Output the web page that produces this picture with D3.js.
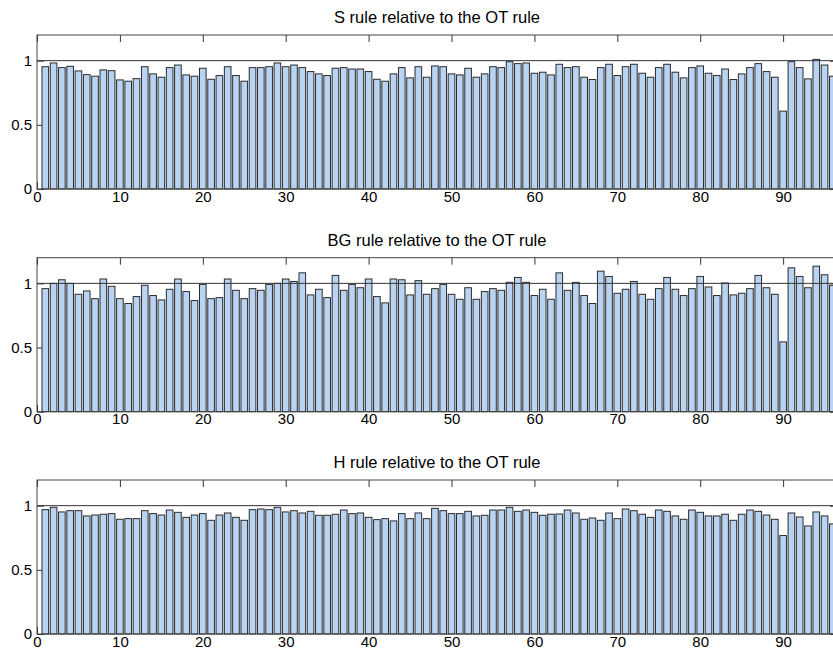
<!DOCTYPE html>
<html>
<head>
<meta charset="utf-8">
<script src="https://cdn.jsdelivr.net/npm/d3@7"></script>
<style>
  body { margin: 0; background: #fff; }
  svg { display: block; overflow: hidden; }
  text { font-family: "Liberation Sans", Arial, sans-serif; fill: #000; }
</style>
</head>
<body>
<div id="chart"></div>
<script>
// ratio of each rule to the OT rule, instances 1..96
var sRule = [0.953, 0.982, 0.946, 0.956, 0.92, 0.891, 0.879, 0.928, 0.922, 0.85,
  0.84, 0.86, 0.953, 0.897, 0.871, 0.946, 0.966, 0.889, 0.879, 0.941,
  0.855, 0.884, 0.953, 0.884, 0.84, 0.946, 0.946, 0.953, 0.982, 0.953,
  0.966, 0.946, 0.915, 0.897, 0.884, 0.941, 0.946, 0.935, 0.935, 0.915,
  0.855, 0.84, 0.897, 0.946, 0.866, 0.953, 0.871, 0.959, 0.953, 0.897,
  0.889, 0.941, 0.871, 0.897, 0.953, 0.946, 0.992, 0.977, 0.982, 0.902,
  0.91, 0.889, 0.972, 0.946, 0.953, 0.871, 0.853, 0.946, 0.972, 0.884,
  0.953, 0.972, 0.902, 0.871, 0.946, 0.972, 0.91, 0.866, 0.946, 0.959,
  0.902, 0.884, 0.935, 0.853, 0.897, 0.946, 0.977, 0.915, 0.871, 0.607,
  0.992, 0.946, 0.858, 1.01, 0.966, 0.879];

var bgRule = [0.959, 1.0, 1.028, 1.0, 0.915, 0.941, 0.881, 1.034, 0.977, 0.881,
  0.843, 0.897, 0.985, 0.905, 0.871, 0.954, 1.034, 0.936, 0.866, 0.992,
  0.881, 0.889, 1.034, 0.946, 0.881, 0.959, 0.946, 0.992, 1.0, 1.034,
  1.015, 1.082, 0.91, 0.954, 0.889, 1.062, 0.946, 0.992, 0.966, 1.034,
  0.897, 0.848, 1.034, 1.028, 0.91, 1.021, 0.915, 0.959, 0.992, 0.915,
  0.876, 0.966, 0.876, 0.936, 0.959, 0.946, 1.008, 1.046, 1.008, 0.905,
  0.954, 0.876, 1.082, 0.946, 1.008, 0.905, 0.843, 1.095, 1.054, 0.923,
  0.954, 1.015, 0.915, 0.876, 0.959, 1.046, 0.954, 0.905, 0.959, 1.054,
  0.972, 0.905, 1.003, 0.91, 0.923, 0.959, 1.062, 0.966, 0.915, 0.544,
  1.121, 1.054, 0.966, 1.134, 1.067, 0.985];

var hRule = [0.969, 0.987, 0.951, 0.961, 0.961, 0.92, 0.927, 0.933, 0.938, 0.894,
  0.899, 0.899, 0.961, 0.938, 0.927, 0.966, 0.948, 0.909, 0.927, 0.938,
  0.886, 0.927, 0.943, 0.909, 0.886, 0.969, 0.974, 0.969, 0.987, 0.951,
  0.961, 0.943, 0.956, 0.925, 0.925, 0.933, 0.966, 0.938, 0.943, 0.909,
  0.891, 0.899, 0.881, 0.938, 0.899, 0.943, 0.899, 0.979, 0.961, 0.938,
  0.938, 0.956, 0.92, 0.925, 0.966, 0.966, 0.987, 0.956, 0.966, 0.948,
  0.925, 0.933, 0.935, 0.966, 0.943, 0.894, 0.904, 0.886, 0.943, 0.899,
  0.974, 0.961, 0.933, 0.909, 0.966, 0.956, 0.92, 0.894, 0.966, 0.948,
  0.92, 0.92, 0.933, 0.886, 0.933, 0.966, 0.956, 0.927, 0.894, 0.767,
  0.943, 0.912, 0.842, 0.951, 0.92, 0.858];

var titles = ["S rule relative to the OT rule",
              "BG rule relative to the OT rule",
              "H rule relative to the OT rule"];
var xTicks = [0, 10, 20, 30, 40, 50, 60, 70, 80, 90];
var yTicks = [0, 0.5, 1];

var w = 833, h = 650;
var left = 37, right = 837;       // right edge of the axes sits just past the window
var panelTop = [35, 257.7, 480];
var panelH = 154;
var tick = 7;

var svg = d3.select("#chart").append("svg")
  .attr("width", w)
  .attr("height", h);

var x = d3.scaleLinear().domain([0, 96.5]).range([left, right]);
var step = x(1) - x(0);
var barW = step * 0.8;

[sRule, bgRule, hRule].forEach(function(data, p) {
  var top = panelTop[p];
  var y = d3.scaleLinear().domain([0, 1.2]).range([top + panelH, top]);
  var g = svg.append("g");

  // ticks under the data, like matlab's default layer
  g.append("g")
    .attr("transform", "translate(0," + (top + panelH) + ")")
    .call(d3.axisBottom(x).tickValues(xTicks).tickSize(-tick).tickPadding(2))
    .call(function(a) {
      a.select(".domain").remove();
      a.selectAll("line").attr("stroke", "#333");
      a.selectAll("text").attr("font-size", "15px").attr("fill", "#000")
        .attr("font-family", "Liberation Sans, Arial, sans-serif");
    });
  g.append("g")
    .attr("transform", "translate(" + left + ",0)")
    .call(d3.axisLeft(y).tickValues(yTicks).tickSize(-tick).tickPadding(5)
      .tickFormat(function(d) { return d; }))
    .call(function(a) {
      a.select(".domain").remove();
      a.selectAll("line").attr("stroke", "#333");
      a.selectAll("text").attr("font-size", "15px").attr("fill", "#000")
        .attr("font-family", "Liberation Sans, Arial, sans-serif");
    });
  g.append("g")
    .attr("transform", "translate(0," + top + ")")
    .call(d3.axisTop(x).tickValues(xTicks).tickSize(-tick).tickFormat(""))
    .call(function(a) { a.select(".domain").remove(); a.selectAll("line").attr("stroke", "#333"); });
  g.append("g")
    .attr("transform", "translate(" + right + ",0)")
    .call(d3.axisRight(y).tickValues(yTicks).tickSize(-tick).tickFormat(""))
    .call(function(a) { a.select(".domain").remove(); a.selectAll("line").attr("stroke", "#333"); });

  g.selectAll("rect.bar")
    .data(data)
    .enter()
    .append("rect")
    .attr("class", "bar")
    .attr("x", function(d, i) { return x(i + 1) - barW / 2; })
    .attr("y", function(d) { return y(d); })
    .attr("width", barW)
    .attr("height", function(d) { return y(0) - y(d); })
    .attr("fill", "#b9d3f2")
    .attr("stroke", "#2b2b2b")
    .attr("stroke-width", 1);

  // reference line at 1
  g.append("line")
    .attr("x1", left).attr("x2", right)
    .attr("y1", y(1)).attr("y2", y(1))
    .attr("stroke", "#333")
    .attr("stroke-width", 1);

  // axes box
  g.append("rect")
    .attr("x", left).attr("y", top)
    .attr("width", right - left).attr("height", panelH)
    .attr("fill", "none")
    .attr("stroke", "#444")
    .attr("stroke-width", 1);

  g.append("text")
    .attr("x", (left + right) / 2)
    .attr("y", top - 12)
    .attr("text-anchor", "middle")
    .attr("font-size", "16.5px")
    .text(titles[p]);
});
</script>
</body>
</html>
